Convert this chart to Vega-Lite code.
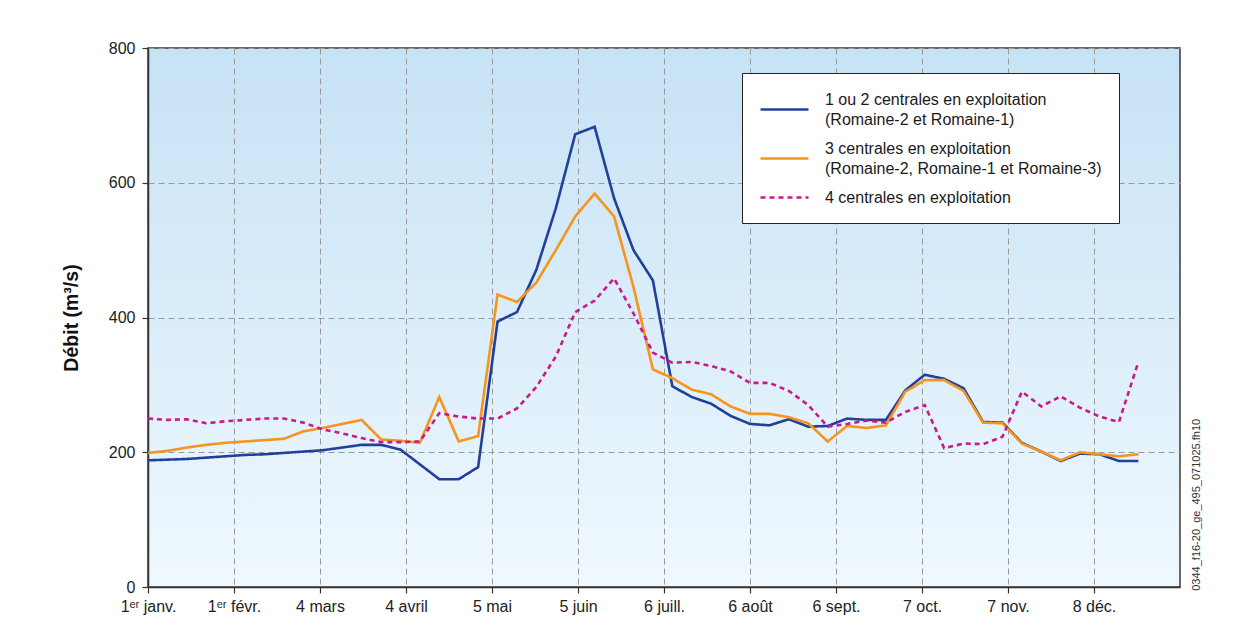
{
  "$schema": "https://vega.github.io/schema/vega-lite/v6.json",
  "width": 1032,
  "height": 539,
  "autosize": {"type": "none"},
  "padding": {"left": 148, "top": 48, "right": 66, "bottom": 56},
  "background": "white",
  "view": {
    "fill": {"gradient": "linear", "x1": 0, "y1": 0, "x2": 0, "y2": 1,
      "stops": [{"offset": 0, "color": "#c6e2f5"}, {"offset": 1, "color": "#eff8fe"}]},
    "stroke": "#3a3a3a",
    "strokeWidth": 1.5
  },
  "config": {
    "font": "Liberation Sans",
    "axis": {
      "domainColor": "#333333",
      "domainWidth": 1.5,
      "tickColor": "#333333",
      "tickSize": 6,
      "tickWidth": 1.2,
      "gridColor": "#999999",
      "gridDash": [6, 4],
      "gridWidth": 1,
      "labelFont": "Liberation Sans",
      "labelFontSize": 16,
      "labelColor": "#222222"
    },
    "legend": {
      "orient": "none",
      "legendX": 594,
      "legendY": 25,
      "fillColor": "white",
      "strokeColor": "#222222",
      "padding": 17,
      "symbolType": "M-1,0H5",
      "symbolSize": 256,
      "symbolStrokeWidth": 2.6,
      "labelFont": "Liberation Sans",
      "labelFontSize": 16,
      "labelColor": "#1a1a1a",
      "labelOffset": 47,
      "labelLimit": 400,
      "rowPadding": 11
    }
  },
  "layer": [
    {
      "data": {
        "values": [
          {"day": 0, "s1": 188, "s2": 199, "s3": 250},
          {"day": 7, "s1": 189, "s2": 202, "s3": 248},
          {"day": 14, "s1": 190, "s2": 207, "s3": 249},
          {"day": 21, "s1": 192, "s2": 211, "s3": 243},
          {"day": 28, "s1": 194, "s2": 214, "s3": 246},
          {"day": 35, "s1": 196, "s2": 216, "s3": 248},
          {"day": 42, "s1": 197, "s2": 218, "s3": 250},
          {"day": 49, "s1": 199, "s2": 220, "s3": 250},
          {"day": 56, "s1": 201, "s2": 231, "s3": 244},
          {"day": 63, "s1": 203, "s2": 236, "s3": 234},
          {"day": 70, "s1": 207, "s2": 242, "s3": 228},
          {"day": 77, "s1": 211, "s2": 248, "s3": 221},
          {"day": 84, "s1": 211, "s2": 219, "s3": 215},
          {"day": 91, "s1": 204, "s2": 217, "s3": 215},
          {"day": 98, "s1": 182, "s2": 214, "s3": 216},
          {"day": 105, "s1": 160, "s2": 282, "s3": 258},
          {"day": 112, "s1": 160, "s2": 216, "s3": 253},
          {"day": 119, "s1": 178, "s2": 224, "s3": 250},
          {"day": 126, "s1": 394, "s2": 434, "s3": 250},
          {"day": 133, "s1": 408, "s2": 423, "s3": 265},
          {"day": 140, "s1": 471, "s2": 452, "s3": 297},
          {"day": 147, "s1": 562, "s2": 500, "s3": 342},
          {"day": 154, "s1": 672, "s2": 550, "s3": 408},
          {"day": 161, "s1": 683, "s2": 584, "s3": 425},
          {"day": 168, "s1": 577, "s2": 550, "s3": 458},
          {"day": 175, "s1": 500, "s2": 445, "s3": 406},
          {"day": 182, "s1": 455, "s2": 323, "s3": 348},
          {"day": 189, "s1": 298, "s2": 310, "s3": 333},
          {"day": 196, "s1": 282, "s2": 293, "s3": 334},
          {"day": 203, "s1": 272, "s2": 286, "s3": 328},
          {"day": 210, "s1": 254, "s2": 268, "s3": 320},
          {"day": 217, "s1": 242, "s2": 257, "s3": 303},
          {"day": 224, "s1": 240, "s2": 257, "s3": 303},
          {"day": 231, "s1": 249, "s2": 252, "s3": 291},
          {"day": 238, "s1": 238, "s2": 243, "s3": 270},
          {"day": 245, "s1": 239, "s2": 216, "s3": 238},
          {"day": 252, "s1": 250, "s2": 239, "s3": 242},
          {"day": 259, "s1": 248, "s2": 236, "s3": 247},
          {"day": 266, "s1": 248, "s2": 240, "s3": 244},
          {"day": 273, "s1": 292, "s2": 290, "s3": 260},
          {"day": 280, "s1": 315, "s2": 307, "s3": 270},
          {"day": 287, "s1": 309, "s2": 307, "s3": 206},
          {"day": 294, "s1": 295, "s2": 291, "s3": 213},
          {"day": 301, "s1": 245, "s2": 244, "s3": 212},
          {"day": 308, "s1": 244, "s2": 243, "s3": 223},
          {"day": 315, "s1": 214, "s2": 213, "s3": 290},
          {"day": 322, "s1": 201, "s2": 201, "s3": 268},
          {"day": 329, "s1": 187, "s2": 188, "s3": 283},
          {"day": 336, "s1": 198, "s2": 200, "s3": 266},
          {"day": 343, "s1": 197, "s2": 197, "s3": 253},
          {"day": 350, "s1": 187, "s2": 194, "s3": 245},
          {"day": 357, "s1": 187, "s2": 197, "s3": 334}
        ]
      },
      "transform": [{"fold": ["s1", "s2", "s3"], "as": ["serie", "debit"]}],
      "mark": {"type": "line", "strokeWidth": 2.6, "interpolate": "linear"},
      "encoding": {
        "x": {
          "field": "day", "type": "quantitative",
          "scale": {"domain": [0, 372], "nice": false, "zero": false},
          "axis": {
            "title": null,
            "values": [0, 31, 62, 93, 124, 155, 186, 217, 248, 279, 310, 341],
            "labelExpr": "['1ᵉʳ janv.', '1ᵉʳ févr.', '4 mars', '4 avril', '5 mai', '5 juin', '6 juill.', '6 août', '6 sept.', '7 oct.', '7 nov.', '8 déc.'][round(datum.value / 31)]",
            "labelPadding": 5,
            "labelFlush": false,
            "labelOverlap": false
          }
        },
        "y": {
          "field": "debit", "type": "quantitative",
          "scale": {"domain": [0, 800], "nice": false},
          "axis": {
            "title": "Débit (m³/s)",
            "values": [0, 200, 400, 600, 800],
            "labelPadding": 7,
            "titleFontSize": 19.5,
            "titleFontWeight": "bold",
            "titleColor": "#111111",
            "titlePadding": 27
          }
        },
        "color": {
          "field": "serie", "type": "nominal",
          "scale": {"domain": ["s1", "s2", "s3"], "range": ["#21409a", "#f7941d", "#c9198b"]},
          "legend": {
            "title": null,
            "labelExpr": "datum.value == 's1' ? ['1 ou 2 centrales en exploitation', '(Romaine-2 et Romaine-1)'] : datum.value == 's2' ? ['3 centrales en exploitation', '(Romaine-2, Romaine-1 et Romaine-3)\u00a0\u00a0'] : '4 centrales en exploitation'",
            "encode": {
              "labels": {"update": {"lineHeight": {"value": 20}}},
              "symbols": {"update": {"shape": {"signal": "datum.value == 's3' ? 'M-1,0H5' : 'M-1,1.25H5'"}}}
            }
          }
        },
        "strokeDash": {
          "field": "serie", "type": "nominal",
          "scale": {"domain": ["s1", "s2", "s3"], "range": [[1, 0], [1, 0], [5, 4]]},
          "legend": {
            "title": null,
            "labelExpr": "datum.value == 's1' ? ['1 ou 2 centrales en exploitation', '(Romaine-2 et Romaine-1)'] : datum.value == 's2' ? ['3 centrales en exploitation', '(Romaine-2, Romaine-1 et Romaine-3)\u00a0\u00a0'] : '4 centrales en exploitation'",
            "encode": {
              "labels": {"update": {"lineHeight": {"value": 20}}},
              "symbols": {"update": {"shape": {"signal": "datum.value == 's3' ? 'M-1,0H5' : 'M-1,1.25H5'"}}}
            }
          }
        }
      }
    },
    {
      "data": {"values": [{"code": "0344_f16-20_ge_495_071025.fh10"}]},
      "mark": {"type": "text", "angle": 270, "fontSize": 11, "color": "#333333", "align": "center", "baseline": "middle", "font": "Liberation Sans"},
      "encoding": {
        "x": {"datum": 378},
        "y": {"datum": 122},
        "text": {"field": "code"}
      }
    }
  ]
}
